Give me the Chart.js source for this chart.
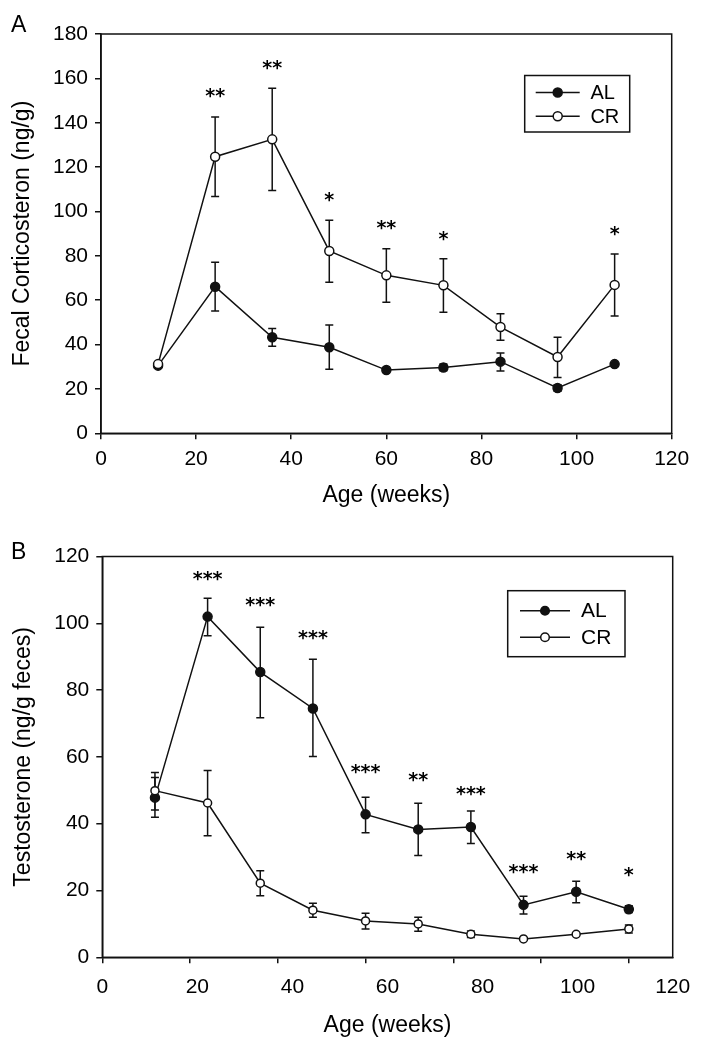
<!DOCTYPE html>
<html lang="en">
<head>
<meta charset="UTF-8">
<title>Fecal corticosterone and testosterone, AL vs CR</title>
<script src="https://cdn.jsdelivr.net/npm/chart.js@4.4.1/dist/chart.umd.min.js"></script>
<style>
    body { margin: 0; background: #fff; }
    .panel { position: absolute; left: 0; width: 703px; height: 525px; }
    .tag { position: absolute; left: 11px; font: 23px "Liberation Sans", Arial, sans-serif; line-height: 23px; color: #000; }
</style>
</head>
<body>
<div class="panel" style="top:0"><canvas id="chartA"></canvas></div>
<div class="panel" style="top:525px"><canvas id="chartB"></canvas></div>
<div class="tag" style="top:13px">A</div>
<div class="tag" style="top:540px">B</div>
<script>
// Panel A - fecal corticosterone (ng/g)
const agesA = [12, 24, 36, 48, 60, 72, 84, 96, 108];
const cortAL   = [30.5, 66.1, 43.3, 38.8, 28.5, 29.7, 32.3, 20.4, 31.2];
const cortALHi = [null, 77.1, 47.2, 48.8, null, 31.2, 36.2, 21.9, null];
const cortALLo = [null, 55.1, 39.2, 28.9, null, 28.2, 28.1, 18.9, null];
const cortCR   = [31.2, 124.7, 132.5, 82.2, 71.2, 66.7, 47.9, 34.4, 66.9];
const cortCRHi = [null, 142.6, 155.5, 96.0, 83.2, 78.7, 53.9, 43.3, 80.8];
const cortCRLo = [null, 106.7, 109.4, 68.1, 59.1, 54.6, 41.9, 25.1, 52.9];
const starsA   = ['', '**', '**', '*', '**', '*', '', '', '*'];
const starYA   = [null, 154.3, 167.3, 107.8, 95.0, 90.2, null, null, 92.4];

// Panel B - testosterone (ng/g feces)
const agesB = [12, 24, 36, 48, 60, 72, 84, 96, 108, 120];
const testAL   = [47.8, 102.0, 85.4, 74.5, 42.8, 38.3, 39.0, 15.7, 19.6, 14.4];
const testALHi = [53.8, 107.5, 98.8, 89.2, 47.9, 46.1, 43.8, 18.3, 22.8, 15.4];
const testALLo = [41.9, 96.3, 71.7, 60.1, 37.3, 30.5, 34.1, 13.0, 16.3, 13.4];
const testCR   = [49.9, 46.2, 22.2, 14.1, 10.9, 10.0, 6.9, 5.5, 6.9, 8.5];
const testCRHi = [55.3, 55.9, 25.9, 16.2, 13.2, 12.0, 7.9, null, null, 9.7];
const testCRLo = [44.1, 36.4, 18.4, 12.0, 8.5, 7.8, 5.9, null, null, 7.3];
const starsB   = ['', '***', '***', '***', '***', '**', '***', '***', '**', '*'];
const starYB   = [null, 115.0, 107.2, 97.2, 57.1, 54.6, 50.6, 27.1, 30.9, 26.3];

// panel B: tick marks sit on the real week scale, the printed labels are spread evenly
const tickMarksB = [0, 20, 40, 60, 80, 100, 120];
const xLabelsB = ['0', '20', '40', '60', '80', '100', '120'];

Chart.defaults.font.family = '"Liberation Sans", Arial, sans-serif';
Chart.defaults.color = '#000';

const ink = '#111';

function points(xs, ys) {
    return xs.map((x, i) => ({ x: x, y: ys[i] }));
}

function series(label, xs, ys, hi, lo, fill, r) {
    return {
        label: label,
        data: points(xs, ys),
        errHi: hi,
        errLo: lo,
        borderColor: ink,
        borderWidth: 1.5,
        pointRadius: r,
        pointBorderWidth: 1.5,
        pointBorderColor: ink,
        pointBackgroundColor: fill,
        order: fill === '#fff' ? 0 : 1 // open circles drawn on top
    };
}

// error bars go under the markers
const errorBars = {
    id: 'errorBars',
    beforeDatasetsDraw(chart) {
        const ctx = chart.ctx, xs = chart.scales.x, ys = chart.scales.y;
        ctx.save();
        ctx.strokeStyle = ink;
        ctx.lineWidth = 1.5;
        chart.data.datasets.forEach(ds => {
            ds.errHi.forEach((hi, i) => {
                if (hi == null) return;
                const px = xs.getPixelForValue(ds.data[i].x);
                const top = ys.getPixelForValue(hi), bot = ys.getPixelForValue(ds.errLo[i]);
                ctx.beginPath();
                ctx.moveTo(px, top); ctx.lineTo(px, bot);
                ctx.moveTo(px - 4, top); ctx.lineTo(px + 4, top);
                ctx.moveTo(px - 4, bot); ctx.lineTo(px + 4, bot);
                ctx.stroke();
            });
        });
        // top and right sides of the frame
        const a = chart.chartArea;
        ctx.strokeRect(a.left, a.top, a.right - a.left, a.bottom - a.top);
        ctx.restore();
    }
};

function starPlugin(ages, labels, heights, size) {
    return {
        id: 'stars',
        afterDatasetsDraw(chart) {
            const ctx = chart.ctx, xs = chart.scales.x, ys = chart.scales.y;
            ctx.save();
            ctx.fillStyle = '#000';
            ctx.font = 'bold ' + size + 'px "DejaVu Sans", sans-serif';
            ctx.textAlign = 'center';
            ctx.textBaseline = 'alphabetic';
            labels.forEach((s, i) => {
                if (!s) return;
                ctx.fillText(s, xs.getPixelForValue(ages[i]), ys.getPixelForValue(heights[i]) + size * 0.6);
            });
            ctx.restore();
        }
    };
}

function legendPlugin(L) {
    return {
        id: 'boxLegend',
        afterDatasetsDraw(chart) {
            const ctx = chart.ctx, a = chart.chartArea;
            const left = a.right - L.right - L.width, top = a.top + L.top;
            ctx.save();
            ctx.strokeStyle = ink;
            ctx.lineWidth = 1.5;
            ctx.strokeRect(left, top, L.width, L.height);
            ctx.font = L.font + 'px "Liberation Sans", Arial, sans-serif';
            ctx.textBaseline = 'middle';
            chart.data.datasets.forEach((ds, i) => {
                const y = top + L.row0 + i * L.rowGap;
                ctx.beginPath();
                ctx.moveTo(left + L.line0, y);
                ctx.lineTo(left + L.line1, y);
                ctx.stroke();
                ctx.beginPath();
                ctx.arc(left + (L.line0 + L.line1) / 2, y, L.radius, 0, Math.PI * 2);
                ctx.fillStyle = ds.pointBackgroundColor;
                ctx.fill();
                ctx.stroke();
                ctx.fillStyle = '#000';
                ctx.fillText(ds.label, left + L.text, y + 1);
            });
            ctx.restore();
        }
    };
}

const tickFont = { size: 21 };
const titleFont = { size: 23 };
const axisGrid = { drawOnChartArea: false, tickLength: 6, color: ink, lineWidth: 1.5 };
const axisBorder = { color: ink, width: 1.5 };

// chart A
new Chart(document.getElementById('chartA'), {
    type: 'line',
    data: {
        datasets: [
            series('AL', agesA, cortAL, cortALHi, cortALLo, ink, 4.5),
            series('CR', agesA, cortCR, cortCRHi, cortCRLo, '#fff', 4.5)
        ]
    },
    options: {
        responsive: true,
        maintainAspectRatio: false,
        animation: false,
        events: [],
        layout: { padding: { left: 0, top: 34, right: 31.3, bottom: 0 } },
        plugins: { legend: { display: false }, tooltip: { enabled: false } },
        scales: {
            x: {
                type: 'linear', min: 0, max: 120,
                ticks: { stepSize: 20, font: tickFont, padding: 7, maxRotation: 0 },
                grid: axisGrid, border: axisBorder,
                title: { display: true, text: 'Age (weeks)', font: titleFont, padding: { top: 0, bottom: 16 } },
                afterFit: s => { s.height = 91.7; }
            },
            y: {
                min: 0, max: 180,
                ticks: { stepSize: 20, font: tickFont, padding: 7 },
                grid: axisGrid, border: axisBorder,
                title: { display: true, text: 'Fecal Corticosteron (ng/g)', font: titleFont, padding: { top: 9, bottom: 0 } },
                afterFit: s => { s.width = 101; }
            }
        }
    },
    plugins: [
        errorBars,
        starPlugin(agesA, starsA, starYA, 19),
        legendPlugin({ right: 42, top: 41.5, width: 105, height: 56.5, row0: 17, rowGap: 23.7, line0: 11, line1: 55, radius: 4.5, text: 65.7, font: 20 })
    ]
});

// chart B
new Chart(document.getElementById('chartB'), {
    type: 'line',
    data: {
        datasets: [
            series('AL', agesB, testAL, testALHi, testALLo, ink, 4.5),
            series('CR', agesB, testCR, testCRHi, testCRLo, '#fff', 4)
        ]
    },
    options: {
        responsive: true,
        maintainAspectRatio: false,
        animation: false,
        events: [],
        layout: { padding: { left: 0, top: 31.5, right: 30.3, bottom: 0 } },
        plugins: { legend: { display: false }, tooltip: { enabled: false } },
        scales: {
            x: {
                type: 'linear', min: 0, max: 130,
                afterBuildTicks: s => { s.ticks = tickMarksB.map(v => ({ value: v })); },
                ticks: { display: false },
                grid: axisGrid, border: axisBorder,
                afterFit: s => { s.height = 6; }
            },
            xLab: {
                type: 'category', position: 'bottom', weight: 1,
                labels: xLabelsB, offset: false,
                ticks: { font: tickFont, padding: 11, maxRotation: 0, autoSkip: false },
                grid: { display: false, drawTicks: false },
                border: { display: false },
                title: { display: true, text: 'Age (weeks)', font: titleFont, padding: { top: 0, bottom: 11 } },
                afterFit: s => { s.height = 86.7; }
            },
            y: {
                min: 0, max: 120,
                ticks: { stepSize: 20, font: tickFont, padding: 7 },
                grid: axisGrid, border: axisBorder,
                title: { display: true, text: 'Testosterone (ng/g feces)', font: titleFont, padding: { top: 10, bottom: 0 } },
                afterFit: s => { s.width = 102.3; }
            }
        }
    },
    plugins: [
        errorBars,
        starPlugin(agesB, starsB, starYB, 19),
        legendPlugin({ right: 47.7, top: 34.2, width: 117.3, height: 66, row0: 20, rowGap: 26.6, line0: 12.3, line1: 62.3, radius: 4.3, text: 73.3, font: 21 })
    ]
});
</script>
</body>
</html>
